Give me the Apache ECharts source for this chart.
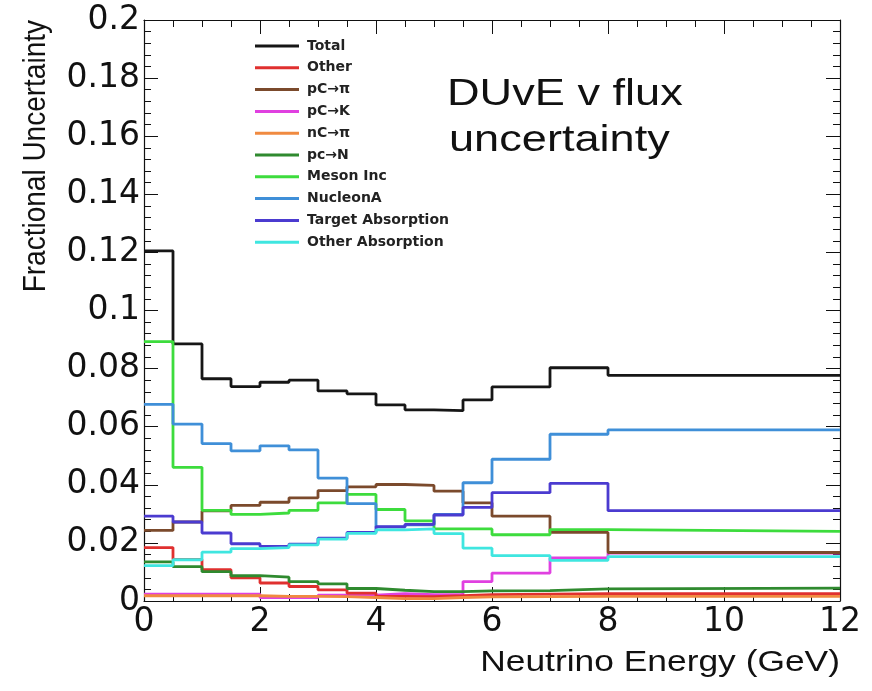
<!DOCTYPE html>
<html>
<head>
<meta charset="utf-8">
<script src="https://cdn.jsdelivr.net/npm/echarts@6/dist/echarts.min.js"></script>
<style>
html, body { margin: 0; padding: 0; background: #fff; }
#chart { width: 872px; height: 691px; }
</style>
</head>
<body>
<div id="chart"></div>
<script>
// Energy bin edges (GeV): 0.5 GeV bins up to 6, then 6-7, 7-8, 8-12
const binEdges = [0, 0.5, 1, 1.5, 2, 2.5, 3, 3.5, 4, 4.5, 5, 5.5, 6, 7, 8, 12];

// Fractional uncertainty per bin for each flux systematic
const total        = [0.1205, 0.0885, 0.0765, 0.0738, 0.0753, 0.0760, 0.0723, 0.0713, 0.0675, 0.0658, 0.0655, 0.0692, 0.0737, 0.0803, 0.0777];
const other        = [0.0184, 0.0143, 0.0108, 0.0080, 0.0062, 0.0050, 0.0038, 0.0027, 0.0016, 0.0015, 0.0018, 0.0022, 0.0024, 0.0025, 0.0025];
const pCpi         = [0.0243, 0.0272, 0.0310, 0.0329, 0.0340, 0.0355, 0.0380, 0.0393, 0.0401, 0.0398, 0.0378, 0.0338, 0.0292, 0.0236, 0.0167];
const pCK          = [0.0024, 0.0024, 0.0024, 0.0024, 0.0012, 0.0012, 0.0020, 0.0020, 0.0025, 0.0022, 0.0022, 0.0067, 0.0096, 0.0148, 0.0165];
const nCpi         = [0.0018, 0.0018, 0.0018, 0.0018, 0.0016, 0.0016, 0.0015, 0.0012, 0.0008, 0.0008, 0.0012, 0.0014, 0.0015, 0.0016, 0.0016];
const pCN          = [0.0135, 0.0118, 0.0101, 0.0087, 0.0082, 0.0067, 0.0059, 0.0043, 0.0037, 0.0032, 0.0032, 0.0035, 0.0036, 0.0042, 0.0044];
const mesonInc     = [0.0893, 0.0460, 0.0312, 0.0298, 0.0303, 0.0312, 0.0338, 0.0367, 0.0315, 0.0276, 0.0248, 0.0248, 0.0228, 0.0246, 0.0240];
const nucleonA     = [0.0677, 0.0609, 0.0542, 0.0517, 0.0534, 0.0520, 0.0423, 0.0335, 0.0254, 0.0262, 0.0298, 0.0407, 0.0488, 0.0574, 0.0589];
const targetAbs    = [0.0292, 0.0272, 0.0234, 0.0197, 0.0188, 0.0196, 0.0216, 0.0236, 0.0256, 0.0264, 0.0296, 0.0322, 0.0373, 0.0405, 0.0311];
const otherAbs     = [0.0122, 0.0142, 0.0168, 0.0180, 0.0184, 0.0193, 0.0213, 0.0233, 0.0245, 0.0248, 0.0232, 0.0182, 0.0156, 0.0140, 0.0153];

const seriesNames  = ['Total', 'Other', 'pC\u2192\u03c0', 'pC\u2192K', 'nC\u2192\u03c0', 'pc\u2192N', 'Meson Inc', 'NucleonA', 'Target Absorption', 'Other Absorption'];
const seriesValues = [total, other, pCpi, pCK, nCpi, pCN, mesonInc, nucleonA, targetAbs, otherAbs];
const seriesColors = ['#161616', '#e0302f', '#7b4a2c', '#e040e0', '#f08a40', '#2f8a2f', '#3ddc3d', '#3f8fd8', '#4b3bd0', '#3fe6e0'];
// Stacking order of the outlines (higher is drawn on top)
const seriesLayer  = [2, 4, 6, 3, 5, 7, 8, 9, 10, 11];

const yTicks = [0, 0.02, 0.04, 0.06, 0.08, 0.1, 0.12, 0.14, 0.16, 0.18, 0.2];
const xTicks = [0, 2, 4, 6, 8, 10, 12];

// Histogram outline: one point at each lower edge, closed at the last upper edge
function histPoints(vals) {
  const pts = vals.map((v, i) => [binEdges[i], v]);
  pts.push([binEdges[binEdges.length - 1], vals[vals.length - 1]]);
  return pts;
}

const FONT = 'Liberation Sans, Arial, Helvetica, sans-serif';
const WIDE = 'DejaVu Sans, Verdana, sans-serif';
const STRETCH = 1.22;
const tickStyle = { show: true, inside: true, length: 14, lineStyle: { color: '#111', width: 1 } };
const minorStyle = { show: true, length: 7, lineStyle: { color: '#111', width: 1 } };
const frameLine = { show: true, onZero: false, lineStyle: { color: '#111', width: 1.2 } };

const chart = echarts.init(document.getElementById('chart'), null, { renderer: 'canvas' });

chart.setOption({
  animation: false,
  backgroundColor: '#ffffff',
  grid: { left: 144, right: 32, top: 20, bottom: 90, containLabel: false },
  legend: {
    orient: 'vertical',
    left: 255,
    top: 39,
    padding: 0,
    itemWidth: 44,
    itemHeight: 3,
    itemGap: 7.8,
    icon: 'rect',
    data: seriesNames,
    textStyle: { fontFamily: WIDE, fontSize: 14, fontWeight: 'bold', color: '#222', lineHeight: 14, padding: [0, 0, 0, 3] }
  },
  xAxis: [
    {
      type: 'value', min: xTicks[0], max: xTicks[xTicks.length - 1], interval: 2,
      axisLine: frameLine,
      axisTick: tickStyle,
      minorTick: Object.assign({ splitNumber: 4 }, minorStyle),
      splitLine: { show: false },
      axisLabel: { fontFamily: WIDE, fontSize: 33, color: '#111', margin: 5 }
    },
    {
      type: 'value', position: 'top', min: xTicks[0], max: xTicks[xTicks.length - 1], interval: 2,
      axisLine: frameLine,
      axisTick: tickStyle,
      minorTick: Object.assign({ splitNumber: 4 }, minorStyle),
      splitLine: { show: false },
      axisLabel: { show: false }
    }
  ],
  yAxis: [
    {
      type: 'value', min: yTicks[0], max: yTicks[yTicks.length - 1], interval: 0.02,
      axisLine: frameLine,
      axisTick: tickStyle,
      minorTick: Object.assign({ splitNumber: 5 }, minorStyle),
      splitLine: { show: false },
      axisLabel: { fontFamily: WIDE, fontSize: 33, color: '#111', margin: 4, formatter: v => String(+v.toFixed(2)) }
    },
    {
      type: 'value', position: 'right', min: yTicks[0], max: yTicks[yTicks.length - 1], interval: 0.02,
      axisLine: frameLine,
      axisTick: tickStyle,
      minorTick: Object.assign({ splitNumber: 5 }, minorStyle),
      splitLine: { show: false },
      axisLabel: { show: false }
    }
  ],
  series: seriesNames.map((name, i) => ({
    name: name,
    type: 'line',
    step: 'end',
    symbol: 'none',
    xAxisIndex: 0,
    yAxisIndex: 0,
    z: seriesLayer[i],
    color: seriesColors[i],
    lineStyle: { color: seriesColors[i], width: 2.8 },
    data: histPoints(seriesValues[i])
  })),
  graphic: [
    {
      type: 'text', x: 37, y: 20, rotation: Math.PI / 2, scaleY: 1.1,
      style: { text: 'Fractional Uncertainty', fontFamily: FONT, fontSize: 28, fill: '#111', align: 'right', verticalAlign: 'middle' }
    },
    {
      type: 'text', x: 840, y: 663, scaleX: STRETCH,
      style: { text: 'Neutrino Energy (GeV)', fontFamily: FONT, fontSize: 29, fill: '#111', align: 'right', verticalAlign: 'middle' }
    },
    {
      type: 'text', x: 447, y: 95, scaleX: STRETCH,
      style: { text: 'DUvE v flux', fontFamily: FONT, fontSize: 37, fill: '#111', align: 'left', verticalAlign: 'middle' }
    },
    {
      type: 'text', x: 449, y: 141, scaleX: STRETCH,
      style: { text: 'uncertainty', fontFamily: FONT, fontSize: 37, fill: '#111', align: 'left', verticalAlign: 'middle' }
    }
  ]
});
</script>
</body>
</html>
